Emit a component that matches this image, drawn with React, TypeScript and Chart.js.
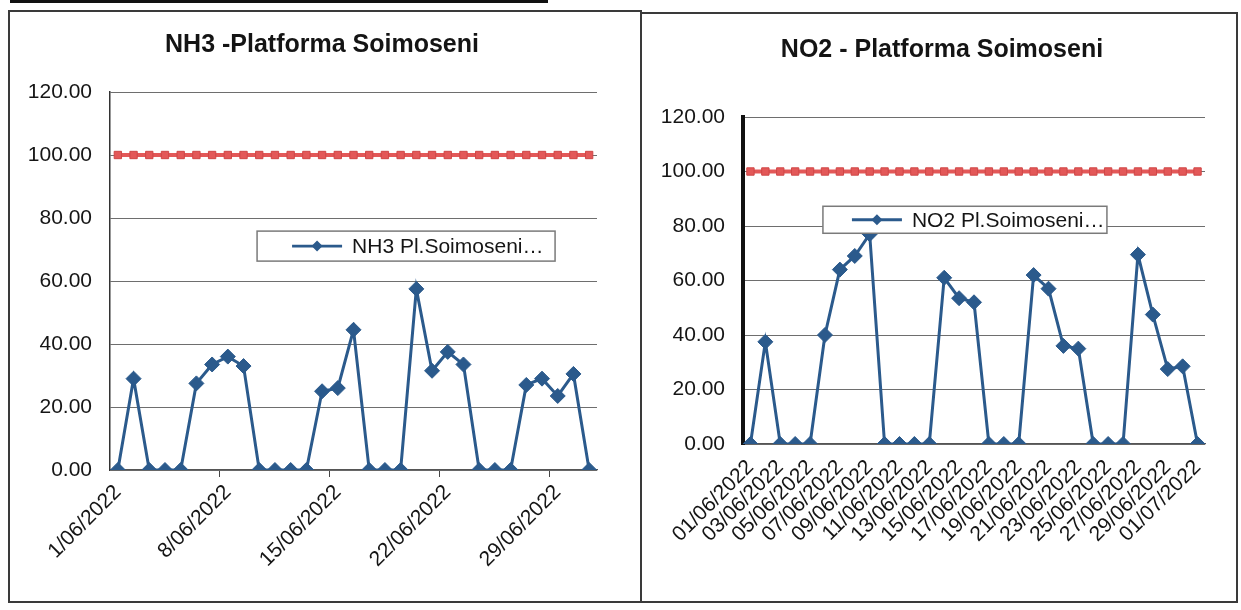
import React, { useEffect, useRef } from "react";
import { Chart, registerables } from "chart.js";

Chart.register(...registerables);

// ---------- data ----------
const categories = [
  "01/06/2022", "02/06/2022", "03/06/2022", "04/06/2022", "05/06/2022", "06/06/2022",
  "07/06/2022", "08/06/2022", "09/06/2022", "10/06/2022", "11/06/2022", "12/06/2022",
  "13/06/2022", "14/06/2022", "15/06/2022", "16/06/2022", "17/06/2022", "18/06/2022",
  "19/06/2022", "20/06/2022", "21/06/2022", "22/06/2022", "23/06/2022", "24/06/2022",
  "25/06/2022", "26/06/2022", "27/06/2022", "28/06/2022", "29/06/2022", "30/06/2022",
  "01/07/2022",
];

const nh3Values = [
  0, 29, 0, 0, 0, 27.5, 33.5, 36, 33, 0, 0, 0, 0, 25, 26, 44.5,
  0, 0, 0, 57.5, 31.5, 37.5, 33.5, 0, 0, 0, 27, 29, 23.5, 30.5, 0,
];

const no2Values = [
  0, 37.5, 0, 0, 0, 40, 64, 69, 77, 0, 0, 0, 0, 61, 53.5, 52,
  0, 0, 0, 62, 57, 36, 35, 0, 0, 0, 69.5, 47.5, 27.5, 28.5, 0,
];

const limitValues = [
  100, 100, 100, 100, 100, 100, 100, 100, 100, 100, 100, 100, 100, 100, 100, 100,
  100, 100, 100, 100, 100, 100, 100, 100, 100, 100, 100, 100, 100, 100, 100,
];

const yTicks = [0, 20, 40, 60, 80, 100, 120];

const nh3Title = "NH3 -Platforma Soimoseni";
const no2Title = "NO2 - Platforma Soimoseni";
const nh3Label = "NH3 Pl.Soimoseni…";
const no2Label = "NO2 Pl.Soimoseni…";
const limitLabel = "Valoare limită";

// ---------- styles ----------
const FONT = "'Liberation Sans', Arial, Helvetica, sans-serif";
const BLUE = "#2b5a8c";
const RED = "#e35858";
const RED_DARK = "#cf4747";

const legendBox = {
  id: "legendBox",
  afterDraw(chart: any, _args: any, opts: any) {
    if (!opts || !opts.text) return;
    const { ctx, chartArea } = chart;
    const x = chartArea.left + opts.fx * (chartArea.right - chartArea.left);
    const y = chartArea.top + opts.fy * (chartArea.bottom - chartArea.top);
    const w = opts.w;
    const h = opts.h;
    ctx.save();
    ctx.fillStyle = "#ffffff";
    ctx.fillRect(x, y, w, h);
    ctx.strokeStyle = "#7a7a7a";
    ctx.lineWidth = 1.5;
    ctx.strokeRect(x, y, w, h);
    const cy = y + h / 2;
    ctx.strokeStyle = BLUE;
    ctx.lineWidth = 2.8;
    ctx.beginPath();
    ctx.moveTo(x + opts.lineStart, cy);
    ctx.lineTo(x + opts.lineEnd, cy);
    ctx.stroke();
    const mx = x + (opts.lineStart + opts.lineEnd) / 2;
    const r = 5.5;
    ctx.fillStyle = BLUE;
    ctx.beginPath();
    ctx.moveTo(mx, cy - r);
    ctx.lineTo(mx + r, cy);
    ctx.lineTo(mx, cy + r);
    ctx.lineTo(mx - r, cy);
    ctx.closePath();
    ctx.fill();
    ctx.fillStyle = "#151515";
    ctx.font = `21px ${FONT}`;
    ctx.textBaseline = "middle";
    ctx.textAlign = "left";
    ctx.fillText(opts.text, x + opts.textX, cy + 1);
    ctx.restore();
  },
};

function makeConfig(kind: "nh3" | "no2"): any {
  const isNh3 = kind === "nh3";
  const values = isNh3 ? nh3Values : no2Values;
  const label = isNh3 ? nh3Label : no2Label;
  return {
    type: "line",
    data: {
      labels: categories,
      datasets: [
        {
          label,
          data: values,
          borderColor: BLUE,
          backgroundColor: BLUE,
          borderWidth: 3,
          pointStyle: "rectRot",
          pointRadius: 7.5,
          pointBorderWidth: 1,
          pointBackgroundColor: BLUE,
          pointBorderColor: BLUE,
          tension: 0,
          yAxisID: "y",
        },
        {
          label: limitLabel,
          data: limitValues,
          borderColor: RED,
          backgroundColor: RED,
          borderWidth: 4,
          pointStyle: "rect",
          pointRadius: 5.2,
          pointBorderWidth: 1,
          pointBackgroundColor: RED,
          pointBorderColor: RED_DARK,
          tension: 0,
          yAxisID: "y",
        },
      ],
    },
    plugins: [legendBox],
    options: {
      animation: false,
      responsive: false,
      devicePixelRatio: 1,
      layout: {
        padding: isNh3 ? { left: 0, right: 4, top: 0, bottom: 0 } : { left: 6, right: 0, top: 0, bottom: 0 },
      },
      plugins: {
        legend: { display: false },
        tooltip: { enabled: false },
        title: {
          display: true,
          text: isNh3 ? nh3Title : no2Title,
          color: "#141414",
          font: { family: FONT, size: 25, weight: "bold" },
          padding: isNh3 ? { top: 18, bottom: 32 } : { top: 21, bottom: 52 },
        },
        legendBox: isNh3
          ? { text: nh3Label, fx: 0.302, fy: 0.368, w: 298, h: 30, lineStart: 35, lineEnd: 85, textX: 95 }
          : { text: no2Label, fx: 0.173, fy: 0.273, w: 284, h: 27, lineStart: 29, lineEnd: 79, textX: 89 },
      },
      scales: {
        x: {
          type: "category",
          offset: true,
          afterFit: (scale: any) => {
            scale.height = isNh3 ? 130 : 155;
          },
          grid: isNh3
            ? {
                display: true,
                offset: true,
                drawOnChartArea: false,
                drawTicks: true,
                tickLength: 7,
                color: (ctx: any) =>
                  ctx.index > 0 && ctx.index < categories.length && ctx.index % 7 === 0 ? "#444" : "rgba(0,0,0,0)",
              }
            : { display: false, drawTicks: false },
          border: { display: true, color: "#555", width: 1.2 },
          ticks: {
            autoSkip: false,
            minRotation: 45,
            maxRotation: 45,
            padding: isNh3 ? 3 : 11,
            color: "#151515",
            font: { family: FONT, size: 21 },
            callback: (_v: any, i: number) => {
              if (isNh3) {
                return i % 7 === 0 ? categories[i].replace(/^0/, "") : "";
              }
              return i % 2 === 0 ? categories[i] : "";
            },
          },
        },
        y: {
          position: "left",
          min: 0,
          max: 120,
          afterFit: (scale: any) => {
            scale.width = isNh3 ? 100 : 93;
          },
          afterBuildTicks: (scale: any) => {
            scale.ticks = yTicks.map((v) => ({ value: v }));
          },
          grid: { color: "#6e6e6e", lineWidth: 1, drawTicks: false },
          border: isNh3 ? { display: true, color: "#333", width: 1.5 } : { display: true, color: "#111", width: 4 },
          ticks: {
            padding: 18,
            color: "#151515",
            font: { family: FONT, size: 21 },
            callback: (v: any) => Number(v).toFixed(2),
          },
        },
        spacer: {
          type: "linear",
          position: "right",
          display: true,
          min: 0,
          max: 120,
          afterFit: (scale: any) => {
            scale.width = isNh3 ? 37 : 29;
          },
          grid: { display: false, drawTicks: false },
          border: { display: false },
          ticks: { display: false },
        },
      },
    },
  };
}

function ChartCanvas({ kind, width, height, style }: { kind: "nh3" | "no2"; width: number; height: number; style: any }) {
  const ref = useRef<HTMLCanvasElement | null>(null);
  useEffect(() => {
    if (!ref.current) return;
    const chart = new Chart(ref.current, makeConfig(kind));
    return () => chart.destroy();
  }, [kind]);
  return <canvas ref={ref} width={width} height={height} style={{ position: "absolute", width, height, ...style }} />;
}

export default function App() {
  return (
    <div style={{ position: "absolute", left: 0, top: 0, width: 1241, height: 610, background: "#fff", overflow: "hidden" }}>
      <div style={{ position: "absolute", left: 10, top: 0, width: 538, height: 3, background: "#111" }} />
      <div
        style={{
          position: "absolute",
          left: 8,
          top: 10,
          width: 630,
          height: 589,
          border: "2px solid #3a3a3a",
        }}
      />
      <div
        style={{
          position: "absolute",
          left: 640,
          top: 12,
          width: 594,
          height: 587,
          border: "2px solid #3a3a3a",
        }}
      />
      <ChartCanvas kind="nh3" width={628} height={588} style={{ left: 10, top: 12 }} />
      <ChartCanvas kind="no2" width={590} height={585} style={{ left: 644, top: 14 }} />
    </div>
  );
}
